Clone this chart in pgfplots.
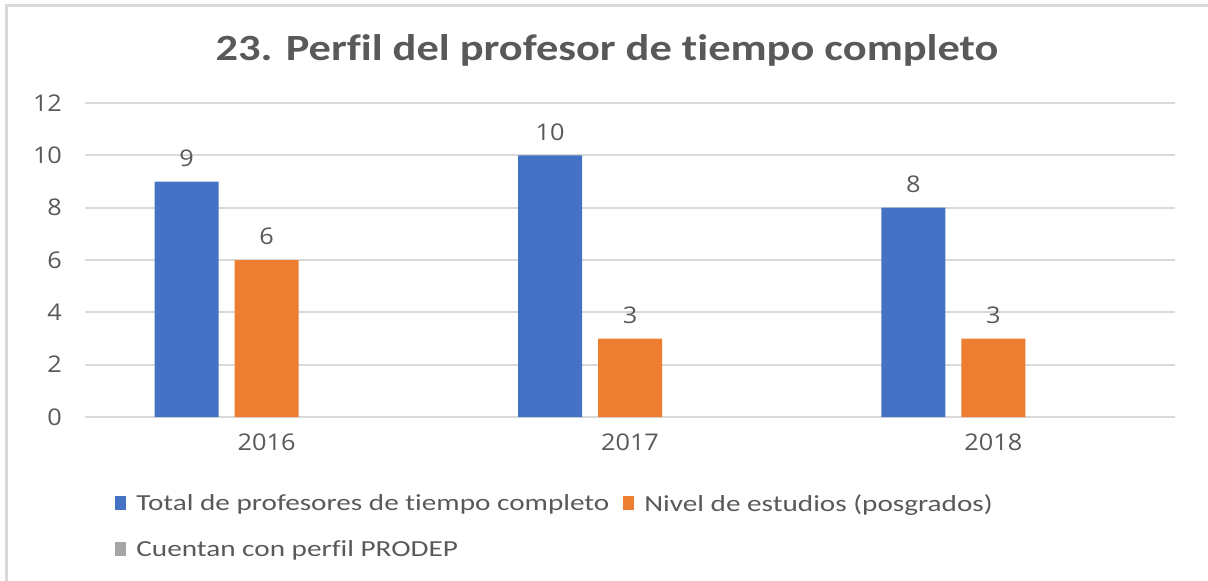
\documentclass[border=0pt]{standalone}
\usepackage{fontspec}
\setmainfont{Carlito}[RawFeature=-liga]
\newfontfamily\titlefont[FakeStretch=1.2,RawFeature=-liga]{Carlito}
\newfontfamily\tickfont[FakeStretch=1.1]{Open Sans}
\newfontfamily\legfont[FakeStretch=1.27,RawFeature=-liga]{Carlito}
\usepackage{pgfplots}
\pgfplotsset{compat=1.18}
\definecolor{cblue}{HTML}{4472C4}
\definecolor{corange}{HTML}{ED7D31}
\definecolor{cgray}{HTML}{A5A5A5}
\definecolor{cgrid}{HTML}{D9D9D9}
\definecolor{ctext}{HTML}{595959}
\pgfplotsset{sqleg/.style={legend image code/.code={\fill[##1] (0pt,-3pt) rectangle (5.5pt,4pt);}}}
\begin{document}
\begin{tikzpicture}
\useasboundingbox (0pt,0pt) rectangle (604pt,290pt);
\begin{scope}
\clip (0pt,0pt) rectangle (604pt,290pt);
\draw[cgrid, line width=1.5pt] (3pt,-10pt) rectangle (620pt,287pt);
\end{scope}
\node[text=ctext, font=\titlefont\fontsize{18.5}{22}\bfseries\selectfont] at (303.5pt,265pt) {23. Perfil del profesor de tiempo completo};
\begin{axis}[
  at={(42.5pt,81.5pt)}, anchor=south west,
  scale only axis, width=545pt, height=157pt,
  xmin=-0.5, xmax=2.5, ymin=0, ymax=12,
  xtick={0,1,2}, xticklabels={2016,2017,2018},
  ytick={0,2,4,6,8,10,12},
  /pgf/number format/assume math mode=true,
  axis line style={draw=none}, major tick length=0pt,
  ymajorgrids, grid style={cgrid, line width=1pt},
  ybar, bar width=32pt,
  tick label style={font=\tickfont\fontsize{11.5}{13}\selectfont, text=ctext},
  yticklabel style={xshift=-8pt},
  xticklabel style={yshift=-5pt},
  nodes near coords,
  nodes near coords style={font=\tickfont\fontsize{11.5}{13}\selectfont, text=ctext, anchor=south, yshift=4pt},
  legend columns=2,
  legend cell align=left,
  legend style={at={(0.0275,-0.2325)}, anchor=north west, draw=none, fill=none, inner sep=0pt,
    font=\legfont\fontsize{11.5}{13}\selectfont, text=ctext,
    /tikz/every odd column/.append style={column sep=3pt},
    /tikz/every even column/.append style={column sep=5pt},
    row sep=9pt},
]
\addplot[fill=cblue, draw=none, bar shift=-40pt, sqleg] coordinates {(0,9) (1,10) (2,8)};
\addlegendentry{Total de profesores de tiempo completo}
\addplot[fill=corange, draw=none, bar shift=0pt, sqleg] coordinates {(0,6) (1,3) (2,3)};
\addlegendentry{Nivel de estudios (posgrados)}
\addlegendimage{fill=cgray, draw=none, sqleg}
\addlegendentry{Cuentan con perfil PRODEP}
\end{axis}
\end{tikzpicture}
\end{document}
